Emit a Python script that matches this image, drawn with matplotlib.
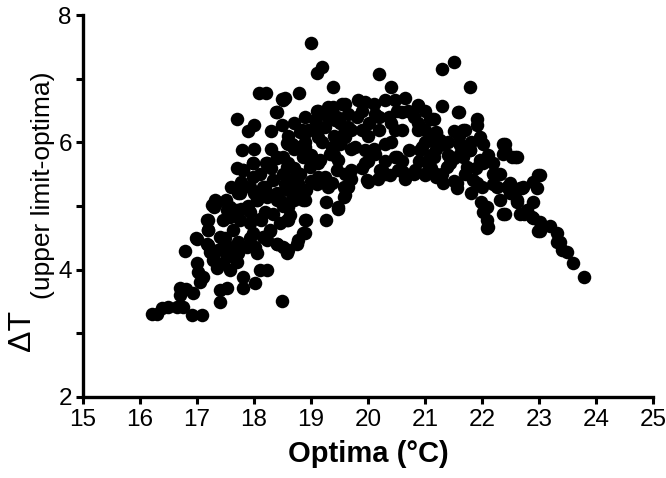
import numpy as np
import matplotlib.pyplot as plt
from matplotlib.ticker import MultipleLocator

plt.rcParams['font.family'] = ['Liberation Sans', 'DejaVu Sans']

# points, grouped by region of the cloud
# lower-left tail
opt_low = [16.21, 16.30, 16.39, 16.49, 16.65, 16.75, 16.91, 17.09, 16.70, 16.70, 16.93,
           17.00, 17.02, 17.10, 16.79, 17.00, 17.19, 17.23, 17.28, 17.35, 17.46, 17.53,
           17.54, 17.63, 17.72, 17.70, 17.58, 17.40, 17.40, 17.53, 17.81, 17.81, 18.02,
           18.11, 18.23, 18.49, 16.99, 17.17, 17.20, 17.40, 17.64, 17.46, 17.70, 17.29,
           17.37, 17.52, 16.80, 17.05]
dt_low = [3.30, 3.30, 3.40, 3.41, 3.41, 3.41, 3.29, 3.29, 3.71, 3.60, 3.63,
          4.10, 3.96, 3.88, 4.29, 4.48, 4.39, 4.28, 4.15, 4.03, 4.10, 4.20,
          4.31, 4.35, 4.26, 4.12, 3.99, 3.68, 3.49, 3.71, 3.88, 3.71, 3.79,
          3.99, 3.99, 3.50, 4.49, 4.41, 4.62, 4.52, 4.62, 4.36, 4.26, 4.15,
          4.31, 4.28, 3.70, 3.80]

# rising left flank
opt_left = [17.35, 17.26, 17.20, 17.20, 17.52, 17.58, 17.70, 17.75, 17.93, 18.05, 17.99,
            18.02, 17.93, 18.16, 18.28, 18.40, 17.49, 17.72, 18.13, 18.34, 18.46, 18.22,
            17.75, 17.93, 18.57, 18.57, 17.32, 17.29, 17.58, 17.78, 17.46, 17.17, 17.93,
            18.10, 18.28, 18.46, 18.63, 18.92, 18.86, 18.75, 18.51, 18.22, 17.87, 18.05,
            18.57, 18.40, 18.60, 18.60, 18.60, 18.60, 18.89, 18.89, 18.78, 18.78, 18.89,
            17.99, 18.22, 18.40, 18.57, 17.81, 17.78, 17.99, 18.16, 18.34, 18.54, 18.69,
            18.78, 18.92, 19.10, 18.86, 18.60, 18.40, 18.22, 18.05, 17.72, 17.81, 17.98,
            18.21, 18.40, 18.51, 18.10, 18.30, 18.50, 18.70, 18.20, 18.40, 18.00, 17.90,
            18.20, 18.50, 18.70, 17.60, 17.50, 17.70]
dt_left = [5.07, 5.01, 4.78, 4.62, 4.94, 4.83, 4.94, 4.78, 4.91, 5.09, 4.57,
           4.36, 4.49, 4.52, 4.60, 4.41, 4.49, 4.44, 4.78, 4.88, 5.09, 5.20,
           5.20, 5.30, 4.78, 4.31, 5.09, 4.99, 4.99, 4.96, 4.78, 4.78, 4.73,
           4.80, 4.62, 4.73, 4.86, 4.78, 4.57, 4.41, 4.36, 4.46, 4.36, 4.26,
           4.26, 4.41, 5.25, 5.04, 4.78, 4.31, 4.78, 4.57, 4.46, 5.36, 5.09,
           5.67, 5.67, 5.75, 5.62, 5.56, 5.38, 5.46, 5.30, 5.41, 5.35, 5.41,
           5.20, 5.25, 5.35, 5.09, 4.99, 5.09, 5.14, 5.09, 5.20, 5.56, 5.67,
           5.67, 5.77, 5.77, 5.50, 5.60, 5.50, 5.60, 5.30, 5.20, 5.20, 5.00,
           4.90, 5.00, 5.10, 5.30, 5.10, 5.60]

# upper scatter above the left flank
opt_top_left = [18.09, 18.21, 18.49, 17.70, 18.00, 17.90, 18.39, 18.49, 18.30, 17.79, 18.58,
                18.51, 18.40, 18.81, 18.92, 19.10, 19.22, 19.10, 19.39, 19.45, 19.57, 19.51,
                18.60, 18.75, 18.86, 18.98, 19.16, 19.33, 19.45, 19.63, 19.57, 18.00, 18.30,
                18.60]
dt_top_left = [6.77, 6.77, 6.68, 6.36, 6.27, 6.18, 6.47, 6.27, 6.18, 5.88, 5.99,
               6.66, 6.48, 6.17, 6.17, 6.27, 6.45, 6.50, 6.56, 6.40, 6.14, 5.98,
               5.98, 5.93, 5.77, 5.62, 5.72, 5.82, 5.56, 5.51, 5.30, 5.90, 5.90,
               6.10]

# dense centre of the hump
opt_mid = [19.00, 19.10, 19.19, 20.19, 20.40, 19.39, 18.79, 18.54, 19.13, 19.30, 19.54,
           19.83, 19.95, 20.30, 20.47, 20.65, 20.88, 21.12, 21.12, 19.07, 18.84, 18.95,
           19.42, 19.65, 20.12, 20.36, 20.59, 20.88, 20.88, 18.66, 19.13, 19.36, 19.60,
           19.77, 19.95, 20.12, 20.30, 20.47, 20.71, 20.94, 18.60, 18.89, 19.13, 19.48,
           19.71, 19.95, 20.24, 20.53, 20.82, 21.06, 18.72, 19.25, 19.71, 20.18, 20.65,
           19.89, 20.01, 19.65, 18.89, 19.25, 20.47, 19.27, 19.48, 19.27, 20.00, 19.65,
           19.60, 19.36, 19.13, 20.30, 20.65, 21.00, 19.20, 19.50, 19.80, 20.00, 20.20,
           20.40, 20.60, 20.80, 21.00, 19.40, 19.70, 20.00, 20.30, 20.60, 20.90, 21.10,
           19.30, 19.60, 20.10, 20.50, 20.70, 21.00, 18.70, 18.90, 19.00, 18.80, 19.00,
           19.30, 19.60, 19.90, 20.10, 20.40, 20.20, 19.90, 19.70, 19.40, 19.10, 18.70,
           18.90, 19.98, 19.63, 19.57, 19.48, 20.21, 20.39, 20.62, 20.80, 20.50]
dt_mid = [7.56, 7.09, 7.18, 7.07, 6.87, 6.87, 6.77, 6.69, 6.50, 6.56, 6.61,
          6.66, 6.64, 6.66, 6.66, 6.69, 6.58, 6.37, 6.03, 6.35, 6.19, 6.19,
          6.35, 6.45, 6.45, 6.40, 6.48, 6.30, 6.19, 5.98, 6.09, 5.93, 6.09,
          5.93, 5.88, 5.82, 5.98, 5.77, 5.88, 5.93, 5.67, 5.77, 5.67, 5.72,
          5.56, 5.67, 5.56, 5.56, 5.56, 5.67, 5.46, 5.46, 5.43, 5.43, 5.43,
          6.19, 6.30, 6.24, 5.93, 6.24, 6.19, 5.07, 4.96, 4.78, 5.38, 5.30,
          5.17, 5.36, 5.46, 5.51, 5.49, 5.49, 6.00, 6.30, 6.40, 6.10, 6.20,
          6.00, 6.20, 6.40, 6.20, 5.80, 5.90, 5.70, 5.70, 5.70, 5.70, 5.80,
          6.40, 6.60, 6.60, 6.50, 6.50, 6.50, 5.90, 6.00, 5.80, 5.50, 5.40,
          5.30, 5.50, 5.60, 5.90, 6.30, 6.40, 6.50, 6.20, 6.10, 6.20, 6.30,
          6.40, 5.41, 5.30, 5.14, 4.99, 5.56, 5.49, 5.54, 5.51, 5.77]

# right side and falling tail
opt_right = [21.50, 21.29, 21.79, 21.29, 21.60, 21.91, 21.91, 21.15, 21.50, 21.70, 21.20,
             21.26, 21.96, 22.02, 21.61, 22.40, 22.40, 22.58, 21.79, 21.67, 21.50, 21.15,
             22.20, 22.02, 21.38, 21.20, 21.85, 22.32, 22.49, 23.02, 22.90, 22.72, 21.56,
             21.32, 21.56, 21.91, 22.26, 22.49, 22.67, 22.96, 21.99, 22.02, 22.08, 22.08,
             22.32, 22.40, 22.61, 22.67, 22.78, 22.90, 22.90, 23.02, 22.99, 23.19, 23.31,
             23.31, 23.40, 23.49, 23.60, 23.78, 20.88, 21.58, 21.09, 20.91, 21.67, 21.20,
             21.09, 21.32, 22.37, 22.37, 21.61, 21.79, 21.61, 20.91, 21.09, 21.44, 21.73,
             21.96, 22.20, 21.03, 21.20, 22.08, 22.37, 22.52, 22.61, 22.23, 22.43, 22.70,
             22.99, 22.61, 22.73, 22.87, 23.02, 23.37, 22.11, 21.40, 21.60, 21.80, 21.40,
             21.30, 21.70, 21.90, 22.10, 22.20, 21.50, 21.80, 22.00, 21.10, 21.20, 21.00]
dt_right = [7.26, 7.16, 6.87, 6.57, 6.48, 6.37, 6.27, 6.37, 6.18, 6.19, 6.17,
            6.04, 6.09, 5.98, 5.96, 5.98, 5.88, 5.77, 5.88, 5.77, 5.75, 5.77,
            5.67, 5.67, 5.62, 5.51, 5.41, 5.51, 5.36, 5.49, 5.38, 5.30, 5.36,
            5.36, 5.28, 5.36, 5.30, 5.20, 5.28, 5.28, 5.07, 4.91, 4.78, 4.65,
            5.09, 4.88, 5.07, 4.88, 4.94, 5.07, 4.81, 4.75, 4.60, 4.68, 4.57,
            4.44, 4.31, 4.28, 4.10, 3.89, 6.57, 6.48, 6.37, 6.24, 6.19, 6.14,
            6.03, 5.98, 5.98, 5.82, 5.98, 5.88, 5.82, 5.88, 5.77, 5.67, 5.62,
            5.72, 5.35, 5.54, 5.46, 4.99, 4.88, 5.77, 5.77, 5.51, 5.30, 5.28,
            5.49, 5.09, 4.88, 4.83, 4.60, 4.44, 4.67, 6.00, 6.10, 6.00, 5.80,
            5.50, 5.50, 5.60, 5.80, 5.50, 5.40, 5.20, 5.30, 5.60, 5.90, 6.00]

optima = np.concatenate([opt_low, opt_left, opt_top_left, opt_mid, opt_right])
delta_t = np.concatenate([dt_low, dt_left, dt_top_left, dt_mid, dt_right])

fig = plt.figure(figsize=(6.66, 4.78), dpi=100)
ax = fig.add_axes([0.1246, 0.1695, 0.856, 0.799])

ax.scatter(optima, delta_t, s=95, c='black', linewidths=0, zorder=3, clip_on=False)

ax.set_xlim(15, 25)
ax.set_ylim(2, 8)
ax.xaxis.set_major_locator(MultipleLocator(1))
ax.yaxis.set_major_locator(MultipleLocator(2))
ax.yaxis.set_minor_locator(MultipleLocator(1))

for side in ['top', 'right']:
    ax.spines[side].set_visible(False)
for side in ['left', 'bottom']:
    ax.spines[side].set_linewidth(2.4)

ax.tick_params(which='both', direction='out', length=5, width=2.2, labelsize=17.5)
ax.tick_params(axis='x', pad=4)
ax.tick_params(axis='y', pad=3)

ax.set_xlabel('Optima (°C)', fontsize=21, fontweight='bold', labelpad=6)

# y label: big delta T with a subscript written as a second text
fig.text(22 / 666, 1 - 330 / 478, 'ΔT', rotation=90, fontsize=23,
         ha='center', va='center')
fig.text(43 / 666, 1 - 185 / 478, '(upper limit-optima)', rotation=90, fontsize=19,
         ha='center', va='center')

fig.savefig('out.png', dpi=100)
